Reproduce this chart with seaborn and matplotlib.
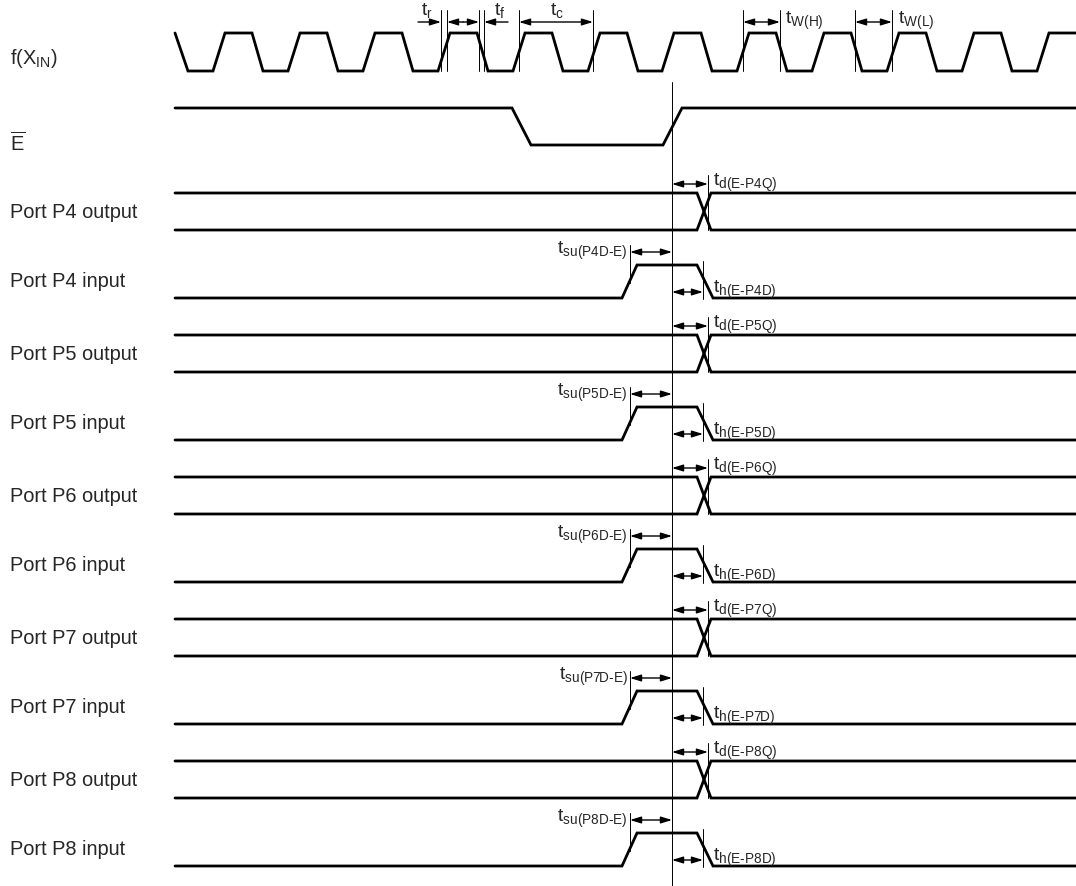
import matplotlib
matplotlib.use("Agg")
import matplotlib.pyplot as plt
import seaborn as sns
import numpy as np
import pandas as pd

# ---------------- data (pixel-like timing units) ----------------
X_START, X_END = 175, 1076

# clock f(XIN)
clk_high, clk_low = 34, 72
clk_rise_starts = [213, 288, 363, 438, 513, 588, 662, 737, 812, 887, 962, 1037]
clk_rise_w, clk_high_w, clk_fall_w = 12, 27, 11

# E-bar signal
e_high, e_low = 109, 146
e_fall = [512, 531]
e_rise = [663, 682]
ref_x = 672  # reference line (E rising edge)

# port rows
ports = ["P4", "P5", "P6", "P7", "P8"]
row_step = 142
out_hi, out_lo = 194, 231
in_hi, in_lo = 266, 299
out_cross = [697, 711]
in_rise = [622, 637]
in_fall = [697, 713]
td_end, tsu_start, th_end = 708, 630, 703

# ---------------- figure ----------------
sns.set_theme(style="white")
plt.rcParams["font.family"] = ["Liberation Sans", "DejaVu Sans"]
plt.rcParams["mathtext.fontset"] = "custom"
plt.rcParams["mathtext.rm"] = "Liberation Sans"
plt.rcParams["mathtext.it"] = "Liberation Sans"

fig = plt.figure(figsize=(10.76, 8.87), dpi=100)
ax = fig.add_axes([0, 0, 1, 1])
ax.set_xlim(0, 1076)
ax.set_ylim(887, 0)
ax.axis("off")

LW = 2.0
def wave(xs, ys):
    sns.lineplot(x=xs, y=ys, sort=False, estimator=None, color="black",
                 lw=LW, ax=ax, solid_joinstyle="miter")

def thin(x0, y0, x1, y1):
    ax.plot([x0, x1], [y0, y1], color="black", lw=0.7)

def arrow(x0, x1, y, style="<|-|>"):
    ax.annotate("", xy=(x1, y), xytext=(x0, y),
                arrowprops=dict(arrowstyle=style + ",head_length=0.55,head_width=0.17",
                                color="black", lw=1.0, shrinkA=0, shrinkB=0))

def tlabel(sub):
    return r"$\mathregular{t}_{\text{%s}}$" % sub

# clock
cx, cy = [X_START], [clk_high]
cx.append(188); cy.append(clk_low)
for r in clk_rise_starts:
    pts = [(r, clk_low), (r + clk_rise_w, clk_high),
           (r + clk_rise_w + clk_high_w, clk_high),
           (r + clk_rise_w + clk_high_w + clk_fall_w, clk_low)]
    for px, py in pts:
        if px <= X_END:
            cx.append(px); cy.append(py)
        else:
            cx.append(X_END); cy.append(clk_high)
            break
wave(cx, cy)

# clock annotations
tick_top, tick_bot = 11, 72
for xv in [441, 447, 479, 484, 519, 593, 743, 780, 855, 892]:
    thin(xv, tick_top, xv, tick_bot)
ay = 23
arrow(418, 441, ay, "-|>")
arrow(463, 447, ay, "-|>")
arrow(463, 479, ay, "-|>")
arrow(508, 484, ay, "-|>")
arrow(519, 593, ay)
arrow(743, 780, ay)
arrow(855, 892, ay)
fs_t = 14
ax.text(421, 11, tlabel("r"), fontsize=fs_t, va="center", ha="left")
ax.text(494, 11, tlabel("f"), fontsize=fs_t, va="center", ha="left")
ax.text(557, 11, tlabel("c"), fontsize=fs_t, va="center", ha="center")
ax.text(785, 21, tlabel("W(H)"), fontsize=fs_t, va="center", ha="left")
ax.text(898, 21, tlabel("W(L)"), fontsize=fs_t, va="center", ha="left")

# E signal
wave([X_START, e_fall[0], e_fall[1], e_rise[0], e_rise[1], X_END],
     [e_high, e_high, e_low, e_low, e_high, e_high])

# reference line
thin(ref_x, 83, ref_x, 887)

# labels
fs = 14.4
ax.text(10, 58, r"f(X$_{\mathregular{IN}}$)", fontsize=fs, va="center", ha="left")
ax.text(10, 143, r"$\overline{\mathregular{E}}$", fontsize=fs, va="center", ha="left")

for k, p in enumerate(ports):
    o = k * row_step
    # output: crossing pair
    wave([X_START, out_cross[0], out_cross[1], X_END],
         [out_hi + o, out_hi + o, out_lo + o, out_lo + o])
    wave([X_START, out_cross[0], out_cross[1], X_END],
         [out_lo + o, out_lo + o, out_hi + o, out_hi + o])
    # input pulse
    wave([X_START, in_rise[0], in_rise[1], in_fall[0], in_fall[1], X_END],
         [in_lo + o, in_lo + o, in_hi + o, in_hi + o, in_lo + o, in_lo + o])
    ax.text(10, (out_hi + out_lo) / 2 + o, f"Port {p} output", fontsize=fs,
            va="center", ha="left")
    ax.text(10, (in_hi + in_lo) / 2 - 1 + o, f"Port {p} input", fontsize=fs,
            va="center", ha="left")
    # td
    thin(td_end, 176 + o, td_end, out_lo + o)
    arrow(ref_x, td_end, 185 + o)
    ax.text(713, 183 + o, tlabel("d(E-%sQ)" % p), fontsize=fs_t,
            va="center", ha="left")
    # tsu
    thin(tsu_start, 246 + o, tsu_start, 284 + o)
    arrow(tsu_start, ref_x, 253 + o)
    ax.text(628, 251 + o, tlabel("su(%sD-E)" % p), fontsize=fs_t,
            va="center", ha="right")
    # th
    thin(th_end, 262 + o, th_end, 300 + o)
    arrow(ref_x, th_end, 293 + o)
    ax.text(713, 290 + o, tlabel("h(E-%sD)" % p), fontsize=fs_t,
            va="center", ha="left")

fig.savefig("out.png", dpi=100, facecolor="white")
